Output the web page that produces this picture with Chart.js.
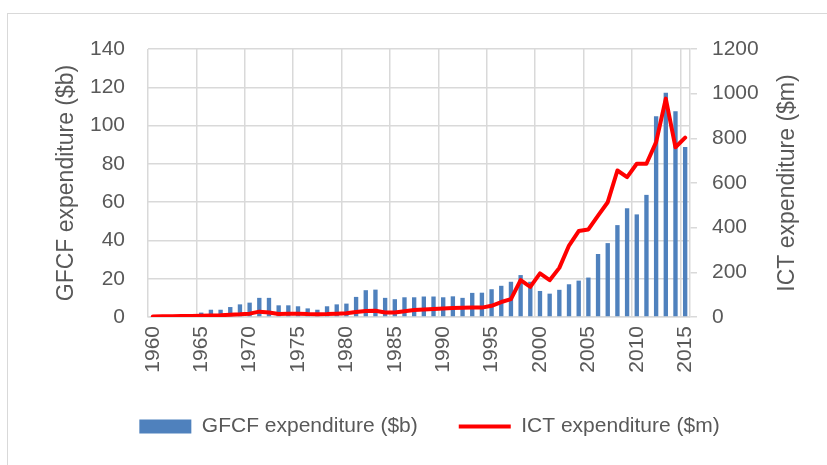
<!DOCTYPE html>
<html>
<head>
<meta charset="utf-8">
<script src="https://cdn.jsdelivr.net/npm/chart.js@4.4.1/dist/chart.umd.min.js"></script>
<style>
  html, body { margin: 0; padding: 0; background: #fff; overflow: hidden; }
  #frame { position: absolute; left: 7px; top: 13px; width: 900px; height: 500px; border: 1.5px solid #d9d9d9; }
  #wrap { position: absolute; left: 0; top: 0; width: 827px; height: 465px; }
</style>
</head>
<body>
<div id="frame"></div>
<div id="wrap"><canvas id="chart"></canvas></div>
<script>
const years = [
    '1960', '1961', '1962', '1963', '1964', '1965', '1966', '1967', '1968', '1969',
    '1970', '1971', '1972', '1973', '1974', '1975', '1976', '1977', '1978', '1979',
    '1980', '1981', '1982', '1983', '1984', '1985', '1986', '1987', '1988', '1989',
    '1990', '1991', '1992', '1993', '1994', '1995', '1996', '1997', '1998', '1999',
    '2000', '2001', '2002', '2003', '2004', '2005', '2006', '2007', '2008', '2009',
    '2010', '2011', '2012', '2013', '2014', '2015'
];

// GFCF expenditure ($b) - left axis
const gfcf = [
    0.5, 0.6, 1.0, 1.4, 1.5, 2.3, 3.8, 3.8, 5.2, 6.6,
    7.5, 10.0, 10.0, 6.1, 6.1, 5.6, 4.5, 3.8, 5.6, 6.6,
    7.0, 10.5, 14.0, 14.3, 10.0, 9.3, 10.3, 10.3, 10.7, 10.7,
    10.3, 10.8, 10.0, 12.6, 12.7, 14.5, 16.3, 18.4, 21.9, 18.4,
    13.6, 12.2, 14.2, 17.1, 19.0, 20.6, 32.9, 38.6, 48.0, 56.8,
    53.6, 63.8, 104.9, 117.1, 107.5, 88.8
];

// ICT expenditure ($m) - right axis
const ict = [
    2, 3, 3, 4, 5, 6, 7, 8, 10, 12,
    15, 24, 20, 13, 14, 15, 13, 12, 13, 15,
    17, 22, 27, 28, 20, 20, 26, 31, 34, 36,
    38, 40, 41, 42, 42, 50, 67, 80, 165, 135,
    195, 165, 220, 320, 385, 392, 454, 514, 656, 626,
    686, 686, 783, 978, 760, 803
];

const gfcfTicks = { min: 0, max: 140, step: 20 };
const ictTicks = { min: 0, max: 1200, step: 200 };

const textColor = '#595959';
const gridColor = '#d9d9d9';
const fontFamily = '"Liberation Sans", Arial, sans-serif';

// titre de l'axe droit (lu de bas en haut, comme à gauche)
const rightTitle = {
    id: 'rightTitle',
    afterDraw(chart) {
        const ctx = chart.ctx;
        const area = chart.chartArea;
        ctx.save();
        ctx.translate(788, (area.top + area.bottom) / 2);
        ctx.rotate(-Math.PI / 2);
        ctx.font = '23px ' + fontFamily;
        ctx.fillStyle = textColor;
        ctx.textAlign = 'center';
        ctx.textBaseline = 'middle';
        ctx.fillText('ICT expenditure ($m)', 0, 0);
        ctx.restore();
    }
};

new Chart(document.getElementById('chart').getContext('2d'), {
    type: 'bar',
    data: {
        labels: years,
        datasets: [{
            label: 'GFCF expenditure ($b)',
            data: gfcf,
            backgroundColor: '#4f81bd',
            borderWidth: 0,
            barPercentage: 0.45,
            categoryPercentage: 1,
            pointStyle: 'rect',
            yAxisID: 'y',
            order: 2
        }, {
            type: 'line',
            label: 'ICT expenditure ($m)',
            data: ict,
            borderColor: '#ff0000',
            backgroundColor: '#ff0000',
            borderWidth: 4,
            pointRadius: 0,
            tension: 0,
            borderJoinStyle: 'round',
            borderCapStyle: 'round',
            pointStyle: 'line',
            yAxisID: 'y1',
            order: 1
        }]
    },
    options: {
        responsive: true,
        maintainAspectRatio: false,
        animation: false,
        layout: {
            padding: { left: 32, right: 0, top: 49, bottom: 18 }
        },
        plugins: {
            tooltip: { enabled: false },
            legend: {
                position: 'bottom',
                labels: {
                    usePointStyle: true,
                    pointStyleWidth: 52,
                    boxHeight: 14,
                    padding: 41,
                    color: textColor,
                    font: { family: fontFamily, size: 21 },
                    sort: (a, b) => a.datasetIndex - b.datasetIndex
                }
            }
        },
        scales: {
            x: {
                offset: true,
                afterFit: (scale) => { scale.height = 58; },
                grid: {
                    offset: true,
                    drawTicks: false,
                    lineWidth: 1.5,
                    color: (ctx) => (ctx.index !== undefined && ctx.index % 5 === 0) ? gridColor : 'rgba(0,0,0,0)'
                },
                border: { display: true, color: gridColor, width: 1.5 },
                ticks: {
                    autoSkip: false,
                    minRotation: 90,
                    maxRotation: 90,
                    padding: 9,
                    color: textColor,
                    font: { family: fontFamily, size: 21 },
                    callback: (value, index) => (Number(years[index]) % 5 === 0) ? years[index] : ''
                }
            },
            y: {
                position: 'left',
                min: gfcfTicks.min,
                max: gfcfTicks.max,
                afterFit: (scale) => { scale.width = 116; },
                grid: { color: gridColor, lineWidth: 1.5, drawTicks: false },
                border: { display: false },
                ticks: {
                    stepSize: gfcfTicks.step,
                    padding: 23,
                    color: textColor,
                    font: { family: fontFamily, size: 21 },
                    callback: (value) => String(value)
                },
                title: {
                    display: true,
                    text: 'GFCF expenditure ($b)',
                    color: textColor,
                    font: { family: fontFamily, size: 23 },
                    padding: { top: 21, bottom: 0 }
                }
            },
            y1: {
                position: 'right',
                min: ictTicks.min,
                max: ictTicks.max,
                afterFit: (scale) => { scale.width = 137; },
                grid: { drawOnChartArea: false, color: gridColor, lineWidth: 1.5, tickLength: 7 },
                border: { display: true, color: gridColor, width: 1.5 },
                ticks: {
                    stepSize: ictTicks.step,
                    padding: 15,
                    color: textColor,
                    font: { family: fontFamily, size: 21 },
                    callback: (value) => String(value)
                }
            }
        }
    },
    plugins: [rightTitle]
});
</script>
</body>
</html>
